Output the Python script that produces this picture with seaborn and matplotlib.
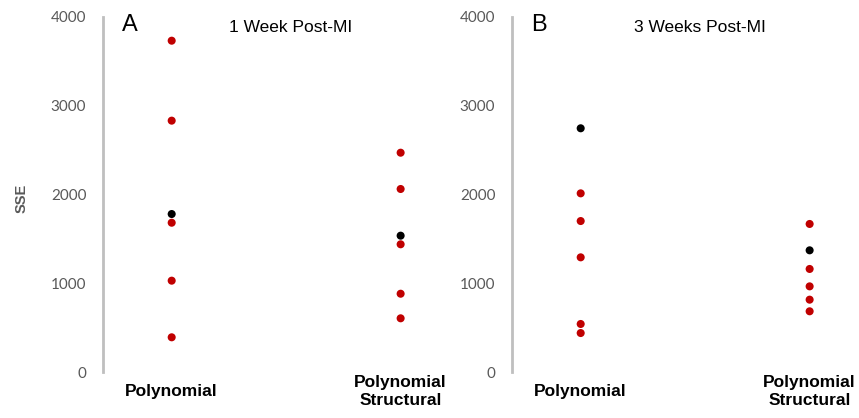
import matplotlib
matplotlib.use("Agg")
import matplotlib.pyplot as plt
import pandas as pd
import seaborn as sns

# SSE values (red = individual fits, black = highlighted fit)
models = ["Polynomial", "Polynomial\nStructural"]
wk1_poly_red = [3733, 2832, 1682, 1029, 391]
wk1_poly_black = [1780]
wk1_struct_red = [2471, 2062, 1439, 882, 605]
wk1_struct_black = [1536]
wk3_poly_red = [2013, 1701, 1292, 541, 439]
wk3_poly_black = [2746]
wk3_struct_red = [1668, 1161, 965, 815, 684]
wk3_struct_black = [1371]

panels = [
    ("A", "1 Week Post-MI", wk1_poly_red, wk1_poly_black, wk1_struct_red, wk1_struct_black),
    ("B", "3 Weeks Post-MI", wk3_poly_red, wk3_poly_black, wk3_struct_red, wk3_struct_black),
]

sns.set_style("white")
plt.rcParams["font.family"] = ["Liberation Sans", "DejaVu Sans"]
plt.rcParams["text.color"] = "black"

fig = plt.figure(figsize=(8.59, 4.18), dpi=100)
lefts = [103 / 859, 512 / 859]

for i, (letter, title, pr, pb, sr, sb) in enumerate(panels):
    rows = []
    for v in pr:
        rows.append((models[0], v, "red"))
    for v in sr:
        rows.append((models[1], v, "red"))
    for v in pb:
        rows.append((models[0], v, "black"))
    for v in sb:
        rows.append((models[1], v, "black"))
    df = pd.DataFrame(rows, columns=["model", "sse", "kind"])

    ax = fig.add_axes([lefts[i], 46 / 418, 348 / 859, 355 / 418])
    sns.stripplot(data=df, x="model", y="sse", hue="kind", order=models,
                  hue_order=["red", "black"],
                  palette={"red": "#C00000", "black": "black"},
                  jitter=False, size=5.8, linewidth=0, legend=False, ax=ax)
    ax.set_xlim(-0.3, 1.22)
    ax.set_ylim(0, 4000)
    ax.set_yticks([0, 1000, 2000, 3000, 4000])
    for s in ["top", "right", "bottom"]:
        ax.spines[s].set_visible(False)
    ax.spines["left"].set_color("#BFBFBF")
    ax.spines["left"].set_linewidth(2)

    ax.tick_params(axis="y", length=0, pad=12, labelsize=11, labelcolor="#595959")
    for lab in ax.get_yticklabels():
        lab.set_family(["Lato", "DejaVu Sans"])
    ax.tick_params(axis="x", length=0, pad=14, labelcolor="black")
    ax.set_xticks([0, 1])
    ax.set_xticklabels(models, fontweight="bold", fontsize=12.5, va="center",
                       linespacing=1.3)
    ax.set_xlabel("")
    if i == 0:
        ax.set_ylabel("SSE", fontweight="bold", color="#595959", fontsize=10.5)
        ax.yaxis.set_label_coords(-0.215, 0.49)
    else:
        ax.set_ylabel("")

    ax.text(0.055, 0.978, letter, transform=ax.transAxes, fontsize=17,
            ha="left", va="center", color="black")
    ax.text(0.54, 0.97, title, transform=ax.transAxes, fontsize=12.5,
            ha="center", va="center", color="black")

fig.savefig("out.png", dpi=100)
